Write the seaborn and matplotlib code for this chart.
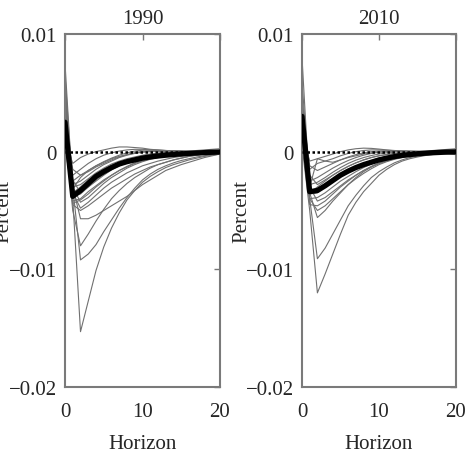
import numpy as np
import pandas as pd
import seaborn as sns
import matplotlib
matplotlib.use('Agg')
import matplotlib.pyplot as plt
from matplotlib.ticker import FuncFormatter

sns.set_theme(style='white')
plt.rcParams['font.family'] = ['Liberation Serif', 'DejaVu Serif']
plt.rcParams['axes.unicode_minus'] = True

# impulse responses, in units of 0.001
horizons = list(range(21))
panel_titles = ['1990', '2010']
scale = 0.001

draws_1990 = [
    [0.5, -4.0, -15.3, -12.7, -10.1, -8.1, -6.5, -5.2, -4.1, -3.3, -2.6, -2.1, -1.7, -1.35, -1.1, -0.9, -0.7, -0.55, -0.4, -0.3, -0.2],
    [1.0, -3.0, -9.2, -8.7, -7.9, -6.8, -5.8, -4.8, -3.9, -3.1, -2.4, -1.9, -1.5, -1.2, -0.95, -0.75, -0.6, -0.45, -0.35, -0.25, -0.15],
    [1.5, -5.0, -8.0, -7.0, -5.9, -4.9, -4.0, -3.3, -2.7, -2.2, -1.8, -1.4, -1.1, -0.9, -0.7, -0.55, -0.4, -0.3, -0.2, -0.15, -0.1],
    [2.0, -3.0, -5.7, -5.7, -5.4, -5.0, -4.6, -4.2, -3.8, -3.3, -2.8, -2.4, -2.0, -1.6, -1.35, -1.1, -0.9, -0.7, -0.5, -0.35, -0.2],
    [3.0, -4.5, -5.0, -4.6, -4.1, -3.6, -3.1, -2.7, -2.3, -1.9, -1.6, -1.3, -1.1, -0.9, -0.7, -0.55, -0.4, -0.3, -0.2, -0.15, -0.1],
    [2.5, -3.5, -4.8, -4.3, -3.7, -3.1, -2.6, -2.2, -1.8, -1.5, -1.2, -1.0, -0.8, -0.65, -0.5, -0.4, -0.3, -0.25, -0.2, -0.15, -0.1],
    [4.0, -3.0, -4.3, -3.9, -3.3, -2.7, -2.2, -1.8, -1.4, -1.1, -0.85, -0.65, -0.5, -0.4, -0.3, -0.25, -0.2, -0.15, -0.1, -0.08, -0.05],
    [5.5, -4.2, -4.0, -3.4, -2.9, -2.4, -2.0, -1.6, -1.3, -1.0, -0.8, -0.6, -0.45, -0.35, -0.25, -0.2, -0.15, -0.1, -0.08, -0.05, -0.03],
    [7.5, -3.5, -3.0, -2.4, -1.9, -1.5, -1.2, -0.9, -0.7, -0.5, -0.35, -0.25, -0.15, -0.1, -0.05, -0.03, -0.02, -0.01, 0.0, 0.0, 0.0],
    [3.5, -2.8, -2.5, -2.0, -1.5, -1.1, -0.8, -0.5, -0.3, -0.15, -0.05, 0.0, 0.03, 0.04, 0.04, 0.03, 0.02, 0.01, 0.0, 0.0, 0.0],
    [2.0, -2.0, -1.5, -1.0, -0.6, -0.3, -0.1, 0.05, 0.15, 0.2, 0.2, 0.15, 0.1, 0.07, 0.05, 0.03, 0.02, 0.01, 0.0, 0.0, 0.0],
    [1.0, -1.0, -0.5, -0.2, 0.0, 0.15, 0.3, 0.4, 0.4, 0.35, 0.3, 0.2, 0.15, 0.1, 0.06, 0.04, 0.02, 0.01, 0.0, 0.0, 0.0],
    [6.5, -3.2, -2.2, -1.6, -1.2, -0.9, -0.6, -0.4, -0.25, -0.1, 0.0, 0.05, 0.05, 0.05, 0.04, 0.03, 0.02, 0.01, 0.0, 0.0, 0.0],
    [4.5, -2.4, -3.5, -3.0, -2.5, -2.0, -1.55, -1.2, -0.9, -0.65, -0.45, -0.3, -0.2, -0.12, -0.08, -0.05, -0.03, -0.02, -0.01, 0.0, 0.0],
    [3.0, -1.5, -2.0, -1.6, -1.2, -0.85, -0.55, -0.3, -0.1, 0.05, 0.12, 0.15, 0.14, 0.1, 0.08, 0.05, 0.03, 0.02, 0.01, 0.0, 0.0],
    [5.0, -3.8, -3.6, -3.0, -2.4, -1.9, -1.5, -1.15, -0.9, -0.7, -0.55, -0.42, -0.33, -0.26, -0.2, -0.15, -0.12, -0.1, -0.1, -0.1, -0.1],
    [3.0, -3.0, -2.8, -2.3, -1.8, -1.4, -1.05, -0.8, -0.6, -0.45, -0.3, -0.2, -0.12, -0.06, -0.02, 0.0, 0.05, 0.1, 0.15, 0.2, 0.25],
    [2.0, -2.5, -2.0, -1.7, -1.3, -1.0, -0.7, -0.45, -0.25, -0.1, 0.0, 0.05, 0.08, 0.08, 0.06, 0.04, 0.0, -0.05, -0.1, -0.15, -0.2],
    [6.0, -4.4, -4.1, -3.6, -3.0, -2.5, -2.0, -1.6, -1.25, -0.95, -0.7, -0.5, -0.35, -0.25, -0.18, -0.12, -0.08, -0.05, -0.03, -0.02, -0.01],
]
median_1990 = [2.5, -3.8, -3.3, -2.7, -2.1, -1.7, -1.35, -1.05, -0.85, -0.7, -0.55, -0.45, -0.37, -0.3, -0.24, -0.19, -0.15, -0.11, -0.08, -0.05, -0.03]

draws_2010 = [
    [0.5, -5.0, -12.0, -10.4, -8.7, -7.0, -5.4, -4.3, -3.4, -2.7, -2.0, -1.5, -1.1, -0.8, -0.6, -0.45, -0.33, -0.24, -0.17, -0.1, -0.05],
    [1.0, -4.0, -9.1, -8.2, -7.0, -5.8, -4.6, -3.7, -2.9, -2.2, -1.7, -1.3, -0.95, -0.7, -0.5, -0.38, -0.28, -0.2, -0.14, -0.08, -0.04],
    [1.5, -3.5, -5.6, -5.0, -4.2, -3.5, -2.8, -2.2, -1.7, -1.3, -1.0, -0.75, -0.55, -0.4, -0.3, -0.22, -0.16, -0.11, -0.08, -0.05, -0.03],
    [2.5, -4.0, -5.0, -4.6, -4.0, -3.4, -2.8, -2.3, -1.85, -1.45, -1.1, -0.85, -0.65, -0.5, -0.38, -0.28, -0.2, -0.14, -0.1, -0.06, -0.03],
    [3.0, -4.5, -4.6, -4.2, -3.6, -3.0, -2.5, -2.0, -1.6, -1.25, -0.95, -0.7, -0.5, -0.38, -0.28, -0.2, -0.14, -0.1, -0.06, -0.04, -0.02],
    [2.0, -3.0, -4.2, -3.9, -3.4, -2.9, -2.4, -2.0, -1.6, -1.3, -1.0, -0.8, -0.6, -0.45, -0.33, -0.24, -0.17, -0.12, -0.08, -0.05, -0.03],
    [5.0, -4.0, -3.9, -3.5, -3.0, -2.5, -2.1, -1.7, -1.35, -1.05, -0.8, -0.6, -0.45, -0.33, -0.24, -0.17, -0.12, -0.08, -0.05, -0.03, -0.02],
    [8.0, -3.5, -3.0, -2.5, -2.0, -1.6, -1.25, -0.95, -0.7, -0.5, -0.35, -0.25, -0.17, -0.11, -0.07, -0.04, -0.02, -0.01, 0.0, 0.0, 0.0],
    [4.0, -2.5, -2.2, -1.8, -1.4, -1.05, -0.75, -0.5, -0.3, -0.15, -0.05, 0.0, 0.03, 0.03, 0.02, 0.01, 0.0, 0.0, 0.0, 0.0, 0.0],
    [2.5, -1.5, -1.0, -0.8, -0.6, -0.35, -0.15, 0.0, 0.1, 0.15, 0.15, 0.12, 0.08, 0.05, 0.03, 0.02, 0.01, 0.0, 0.0, 0.0, 0.0],
    [1.5, -0.8, -0.6, -0.4, -0.2, 0.0, 0.15, 0.25, 0.3, 0.28, 0.22, 0.15, 0.1, 0.06, 0.04, 0.02, 0.01, 0.0, 0.0, 0.0, 0.0],
    [6.0, -3.0, -0.6, -0.8, -0.9, -0.7, -0.5, -0.35, -0.2, -0.1, -0.03, 0.0, 0.02, 0.02, 0.01, 0.0, 0.0, 0.0, 0.0, 0.0, 0.0],
    [3.5, -2.0, -2.8, -2.4, -2.0, -1.6, -1.25, -0.95, -0.7, -0.5, -0.35, -0.24, -0.16, -0.1, -0.06, -0.04, -0.02, -0.01, 0.0, 0.0, 0.0],
    [4.5, -3.6, -3.5, -3.0, -2.5, -2.05, -1.65, -1.3, -1.0, -0.75, -0.55, -0.4, -0.28, -0.2, -0.14, -0.1, -0.07, -0.1, -0.15, -0.2, -0.25],
    [2.5, -2.8, -2.6, -2.2, -1.75, -1.35, -1.0, -0.72, -0.5, -0.33, -0.2, -0.1, -0.04, 0.0, 0.02, 0.03, 0.04, 0.1, 0.15, 0.2, 0.25],
    [3.5, -1.2, -1.6, -1.3, -1.0, -0.7, -0.45, -0.25, -0.1, 0.0, 0.05, 0.06, 0.05, 0.04, 0.03, 0.02, 0.01, 0.0, 0.0, 0.0, 0.0],
]
median_2010 = [3.0, -3.4, -3.3, -2.9, -2.45, -2.0, -1.65, -1.35, -1.1, -0.9, -0.7, -0.55, -0.42, -0.32, -0.25, -0.18, -0.13, -0.09, -0.06, -0.03, -0.02]


def to_long(draws):
    rows = []
    for k, d in enumerate(draws):
        for h, v in zip(horizons, d):
            rows.append({'Horizon': h, 'Percent': v * scale, 'draw': k})
    return pd.DataFrame(rows)


def fmt(v, pos):
    return f'{v:g}'.replace('-', '\u2212')


fig = plt.figure(figsize=(4.67, 4.60), dpi=100)
ax1 = fig.add_axes([65 / 467, 1 - 388 / 460, 155 / 467, 353 / 460])
ax2 = fig.add_axes([302 / 467, 1 - 388 / 460, 154 / 467, 353 / 460])

for ax, title, draws, median in [(ax1, panel_titles[0], draws_1990, median_1990),
                                 (ax2, panel_titles[1], draws_2010, median_2010)]:
    df = to_long(draws)
    sns.lineplot(data=df, x='Horizon', y='Percent', units='draw', estimator=None,
                 color='#707070', linewidth=0.8, ax=ax, legend=False)
    ax.axhline(0, color='black', linestyle=(0, (1, 1)), linewidth=1.8, zorder=3)
    med = pd.DataFrame({'Horizon': horizons, 'Percent': [m * scale for m in median]})
    sns.lineplot(data=med, x='Horizon', y='Percent', color='black', linewidth=3.8, ax=ax, zorder=4)

    ax.set_xlim(0, 20)
    ax.set_ylim(-0.02, 0.01)
    ax.set_xticks([0, 10, 20])
    ax.set_yticks([-0.02, -0.01, 0, 0.01])
    ax.yaxis.set_major_formatter(FuncFormatter(fmt))
    ax.set_title(title, fontsize=15, pad=8)
    ax.set_xlabel('Horizon', fontsize=15, labelpad=9)
    ax.set_ylabel('Percent', fontsize=15)
    ax.yaxis.set_label_coords(-0.33, 0.5)
    ax.tick_params(direction='in', length=4, width=1, color='#777777',
                   top=True, right=True, labelsize=15)
    ax.tick_params(axis='x', pad=11)
    ax.tick_params(axis='y', pad=6)
    for s in ax.spines.values():
        s.set_color('#7a7a7a')
        s.set_linewidth(1.5)

fig.savefig('out.png', dpi=100, facecolor='white')
